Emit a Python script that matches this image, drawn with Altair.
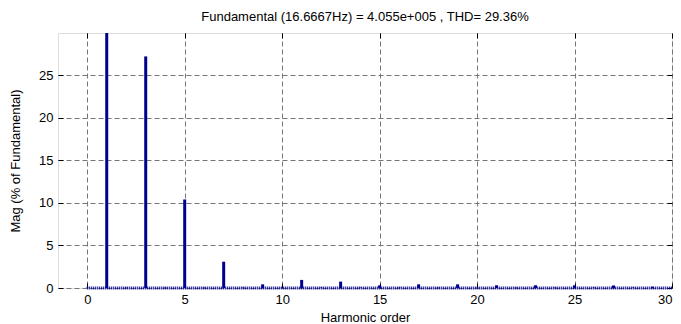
import altair as alt
import pandas as pd

# Harmonic spectrum (% of fundamental)
harmonics = list(range(0, 31))
magnitude = [0.05, 100.0, 0.05, 27.2, 0.05, 10.4, 0.05, 3.09, 0.05, 0.43,
             0.05, 0.95, 0.05, 0.75, 0.05, 0.32, 0.05, 0.43, 0.05, 0.43,
             0.05, 0.32, 0.05, 0.32, 0.05, 0.32, 0.05, 0.30, 0.05, 0.15, 0.05]
x_ticks = [0, 5, 10, 15, 20, 25, 30]
y_ticks = [0, 5, 10, 15, 20, 25]
x_domain = [-1.5, 30]
y_domain = [0, 29.95]
baseline_span = {"x0": [0], "x1": [30], "y": [0]}

title_text = "Fundamental (16.6667Hz) = 4.055e+005 , THD= 29.36%"
FONT = "Liberation Sans"
BLUE = "#00008F"
FS = 13

df = pd.DataFrame({"h": harmonics, "mag": magnitude})
base_df = pd.DataFrame(baseline_span)

xs = alt.Scale(domain=x_domain, nice=False, zero=False, padding=0)
ys = alt.Scale(domain=y_domain, nice=False, zero=False, padding=0)

grid_common = dict(grid=True, gridColor="#777777", gridDash=[5, 3], gridWidth=1,
                   domain=False, ticks=False, labelFont=FONT, labelFontSize=FS,
                   labelColor="black", titleFont=FONT, titleFontSize=FS,
                   titleFontWeight="normal", titleColor="black", format="d")

bars = alt.Chart(df).mark_bar(size=3, color=BLUE, clip=True).encode(
    x=alt.X("h:Q", scale=xs,
            axis=alt.Axis(values=x_ticks, title="Harmonic order", labelPadding=5,
                          titlePadding=5, orient="bottom", **grid_common)),
    y=alt.Y("mag:Q", scale=ys,
            axis=alt.Axis(values=y_ticks, title="Mag (% of Fundamental)", labelPadding=5,
                          titlePadding=16, orient="left", **grid_common)),
)

dots = alt.Chart(base_df).mark_rule(color=BLUE, strokeWidth=3, strokeDash=[1, 1]).encode(
    x=alt.X("x0:Q", scale=xs, axis=None),
    x2="x1:Q",
    y=alt.Y("y:Q", scale=ys, axis=None),
)

def tick_axis(orient, vals):
    return alt.Axis(orient=orient, values=vals, offset=-5, tickSize=5, tickColor="black",
                    labels=False, domain=False, grid=False, title=None, ticks=True)

ticks_bl = alt.Chart(df).mark_point(opacity=0, clip=True).encode(
    x=alt.X("h:Q", scale=xs, axis=tick_axis("bottom", x_ticks)),
    y=alt.Y("mag:Q", scale=ys, axis=tick_axis("left", y_ticks)),
)
ticks_tr = alt.Chart(df).mark_point(opacity=0, clip=True).encode(
    x=alt.X("h:Q", scale=xs, axis=tick_axis("top", x_ticks)),
    y=alt.Y("mag:Q", scale=ys, axis=tick_axis("right", y_ticks)),
)

chart = alt.layer(bars, dots, ticks_bl, ticks_tr).resolve_axis(
    x="independent", y="independent"
).properties(
    width=614, height=255,
    title=alt.TitleParams(title_text, font=FONT, fontSize=FS, fontWeight="normal",
                          color="black", anchor="middle", offset=9),
    autosize=alt.AutoSizeParams(type="none"),
    padding={"left": 58, "top": 33, "right": 9, "bottom": 36},
).configure_view(stroke="black", strokeWidth=1).configure(background="white")

chart.save("out.html", embed_options={"renderer": "svg", "actions": False})
